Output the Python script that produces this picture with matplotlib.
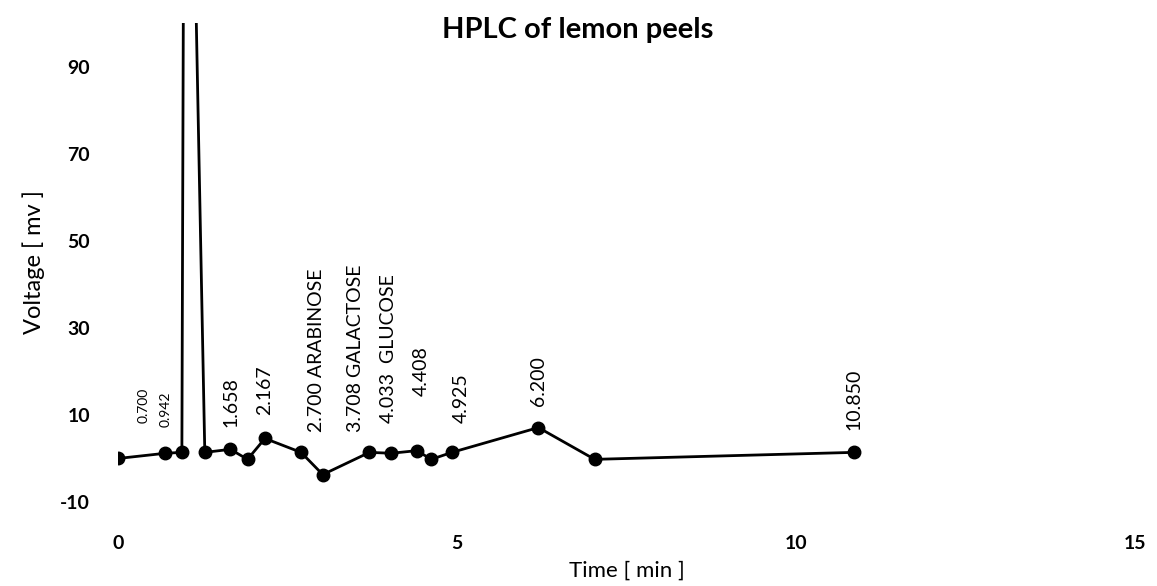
import numpy as np
from matplotlib import pyplot as plt

plt.rcParams['font.family'] = ['Lato', 'DejaVu Sans']
plt.rcParams['axes.unicode_minus'] = False

# retention time [min] and detector signal [mV]
time = [0.0, 0.700, 0.942, 0.99, 1.28, 1.658, 1.91, 2.167, 2.700, 3.02,
        3.708, 4.033, 4.408, 4.62, 4.925, 6.200, 7.03, 10.850]
volt = [0.0, 1.2, 1.4, 230.0, 1.4, 2.1, -0.2, 4.6, 1.4, -3.7,
        1.4, 1.2, 1.8, -0.2, 1.4, 7.1, -0.2, 1.4]

# peak labels (index into the series) and their text
label_idx = [1, 2, 5, 7, 8, 10, 11, 12, 14, 15, 17]
label_txt = ['0.700', '0.942', '1.658', '2.167', '2.700 ARABINOSE',
             '3.708 GALACTOSE', '4.033  GLUCOSE', '4.408', '4.925',
             '6.200', '10.850']
# label offsets from the point, in pixels
label_off = [(-22, 30), (-16, 25), (1, 22), (0, 23), (15, 20), (-14, 20),
             (-3, 30), (4, 55), (9, 29), (0, 22), (0, 22)]
small = ['0.700', '0.942']

xticks = [0, 5, 10, 15]
yticks = [-10, 10, 30, 50, 70, 90]

fig = plt.figure(figsize=(11.57, 5.86), dpi=100)
ax = fig.add_axes([0.102, 0.1433, 0.879, 0.8175])

ax.plot(time, volt, '-o', color='black', lw=2, ms=9)

for i, txt, off in zip(label_idx, label_txt, label_off):
    fs = 10 if txt in small else 14
    ax.annotate(txt, (time[i], volt[i]), xytext=off, textcoords='offset pixels',
                rotation=90, ha='center', va='bottom', fontsize=fs)

ax.set_xlim(0, 15)
ax.set_ylim(-10, 100)
ax.set_xticks(xticks)
ax.set_yticks(yticks)
ax.tick_params(length=0, labelsize=14)
ax.tick_params(axis='y', pad=20)
ax.tick_params(axis='x', pad=24)
for lab in ax.get_xticklabels() + ax.get_yticklabels():
    lab.set_fontweight('bold')
for s in ax.spines.values():
    s.set_visible(False)

ax.set_xlabel('Time [ min ]', fontsize=16, labelpad=6)
ax.set_ylabel('Voltage [ mv ]', fontsize=17, labelpad=11)
fig.text(0.499, 0.949, 'HPLC of lemon peels', ha='center', va='center',
         fontsize=21, fontweight='bold')

fig.savefig('out.png', dpi=100)
